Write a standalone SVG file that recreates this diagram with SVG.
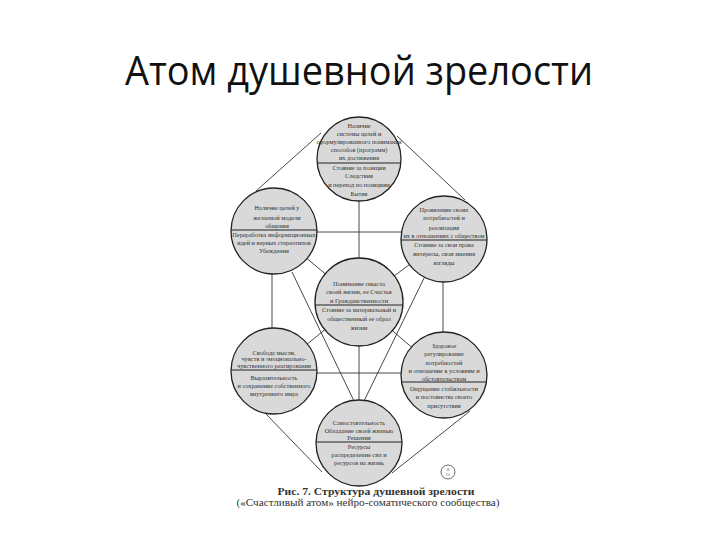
<svg xmlns="http://www.w3.org/2000/svg" width="720" height="540" viewBox="0 0 720 540">
<style>
.c{fill:#d9d9d9;stroke:#222;stroke-width:1.3}
.d{stroke:#222;stroke-width:1}
.l{stroke:#333;stroke-width:0.9;fill:none}
.t{font-family:"Liberation Serif","DejaVu Serif",serif;font-size:6.3px;fill:#333;text-anchor:middle}
.cap{font-family:"Liberation Serif","DejaVu Serif",serif;fill:#333;text-anchor:middle}
</style>
<rect width="720" height="540" fill="#fff"/>
<text x="359" y="85" font-family="Open Sans, Liberation Sans, sans-serif" font-size="41" fill="#111" text-anchor="middle" textLength="468" lengthAdjust="spacingAndGlyphs">Атом душевной зрелости</text>
<g id="connectors" class="l">
<line x1="321" y1="133" x2="256" y2="191"/>
<line x1="397" y1="136" x2="465" y2="200"/>
<line x1="359" y1="190" x2="359" y2="270"/>
<line x1="359" y1="335" x2="359" y2="410"/>
<line x1="305" y1="232" x2="410" y2="232"/>
<line x1="305" y1="373" x2="410" y2="373"/>
<line x1="272" y1="260" x2="272" y2="340"/>
<line x1="443" y1="265" x2="443" y2="345"/>
<line x1="274" y1="231" x2="359" y2="302"/>
<line x1="444" y1="239" x2="359" y2="302"/>
<line x1="274" y1="371" x2="359" y2="302"/>
<line x1="444" y1="375" x2="359" y2="302"/>
<line x1="292" y1="272" x2="354" y2="401"/>
<line x1="427" y1="272" x2="364" y2="401"/>
<line x1="265" y1="413" x2="322" y2="472"/>
<line x1="470" y1="411" x2="392" y2="473"/>
</g>
<g id="n-top">
<circle class="c" cx="359" cy="159" r="42"/>
<line class="d" x1="318" y1="163" x2="400" y2="163"/>
<text class="t" x="359" y="127.5">Наличие</text>
<text class="t" x="359" y="135.5">системы целей и</text>
<text class="t" x="359" y="143.5">сформулированного понимания</text>
<text class="t" x="359" y="152">способов (программ)</text>
<text class="t" x="359" y="160">их достижения</text>
<text class="t" x="359" y="169.5">Стояние за позиции</text>
<text class="t" x="359" y="178">Следствия</text>
<text class="t" x="359" y="187">и переход по позициям</text>
<text class="t" x="359" y="196">Бытия</text>
</g>
<g id="n-upper-left">
<circle class="c" cx="274" cy="231" r="43"/>
<line class="d" x1="231" y1="230" x2="317" y2="230"/>
<text class="t" x="277" y="210">Наличие целей у</text>
<text class="t" x="277" y="219.5">желаемой модели</text>
<text class="t" x="277" y="228">общения</text>
<text class="t" x="274" y="237">Переработка информационных</text>
<text class="t" x="274" y="244.5">идей и верных стереотипов</text>
<text class="t" x="274" y="253">Убеждения</text>
</g>
<g id="n-upper-right">
<circle class="c" cx="444" cy="239" r="43"/>
<line class="d" x1="401" y1="240" x2="487" y2="240"/>
<text class="t" x="444" y="212">Проявление своих</text>
<text class="t" x="444" y="220">потребностей и</text>
<text class="t" x="444" y="229.5">реализация</text>
<text class="t" x="444" y="237.5">их в отношениях с обществом</text>
<text class="t" x="444" y="247">Стояние за свои права</text>
<text class="t" x="444" y="256">интересы, свои мнения</text>
<text class="t" x="444" y="265">взгляды</text>
</g>
<g id="n-center">
<circle class="c" cx="359" cy="302" r="44"/>
<line class="d" x1="315" y1="305" x2="403" y2="305"/>
<text class="t" x="359" y="285.5">Понимание смысла</text>
<text class="t" x="359" y="293.5">своей жизни, ее Счастья</text>
<text class="t" x="359" y="302.5">и Гражданственности</text>
<text class="t" x="359" y="312">Стояние за материальный и</text>
<text class="t" x="359" y="321">общественный ее образ</text>
<text class="t" x="359" y="330">жизни</text>
</g>
<g id="n-lower-left">
<circle class="c" cx="274" cy="371" r="43"/>
<line class="d" x1="231" y1="370" x2="317" y2="370"/>
<text class="t" x="274" y="354.5">Свобода мысли,</text>
<text class="t" x="274" y="361">чувств и эмоционально-</text>
<text class="t" x="274" y="368">чувственного реагирования</text>
<text class="t" x="274" y="380">Выразительность</text>
<text class="t" x="274" y="388">и сохранение собственного</text>
<text class="t" x="274" y="396">внутреннего мира</text>
</g>
<g id="n-lower-right">
<circle class="c" cx="444" cy="375" r="43"/>
<line class="d" x1="401" y1="382" x2="487" y2="382"/>
<text class="t" x="444" y="347.5">Здоровое</text>
<text class="t" x="444" y="356">регулирование</text>
<text class="t" x="444" y="364.5">потребностей</text>
<text class="t" x="444" y="373">и отношение к условиям и</text>
<text class="t" x="444" y="380.5">обстоятельствам</text>
<text class="t" x="444" y="391">Ощущение стабильности</text>
<text class="t" x="444" y="399">и постоянства своего</text>
<text class="t" x="444" y="407.5">присутствия</text>
</g>
<g id="n-bottom">
<circle class="c" cx="359" cy="443" r="43"/>
<line class="d" x1="316" y1="442" x2="402" y2="442"/>
<text class="t" x="359" y="424.5">Самостоятельность</text>
<text class="t" x="359" y="432.5">Обладание своей жизнью</text>
<text class="t" x="359" y="440">Решения</text>
<text class="t" x="359" y="449">Ресурсы</text>
<text class="t" x="359" y="457">распределение сил и</text>
<text class="t" x="359" y="465">ресурсов на жизнь</text>
</g>
<g id="badge">
<circle cx="448" cy="472" r="7" fill="none" stroke="#444" stroke-width="0.8"/>
<text class="cap" x="448" y="471" font-size="4">8</text>
<text class="cap" x="448" y="476" font-size="3.5">Ст</text>
</g>
<text class="cap" x="376" y="495" font-size="10.5" font-weight="bold" textLength="197" lengthAdjust="spacingAndGlyphs">Рис. 7. Структура душевной зрелости</text>
<text class="cap" x="368" y="506" font-size="10" textLength="263" lengthAdjust="spacingAndGlyphs">(«Счастливый атом» нейро-соматического сообщества)</text>
</svg>
